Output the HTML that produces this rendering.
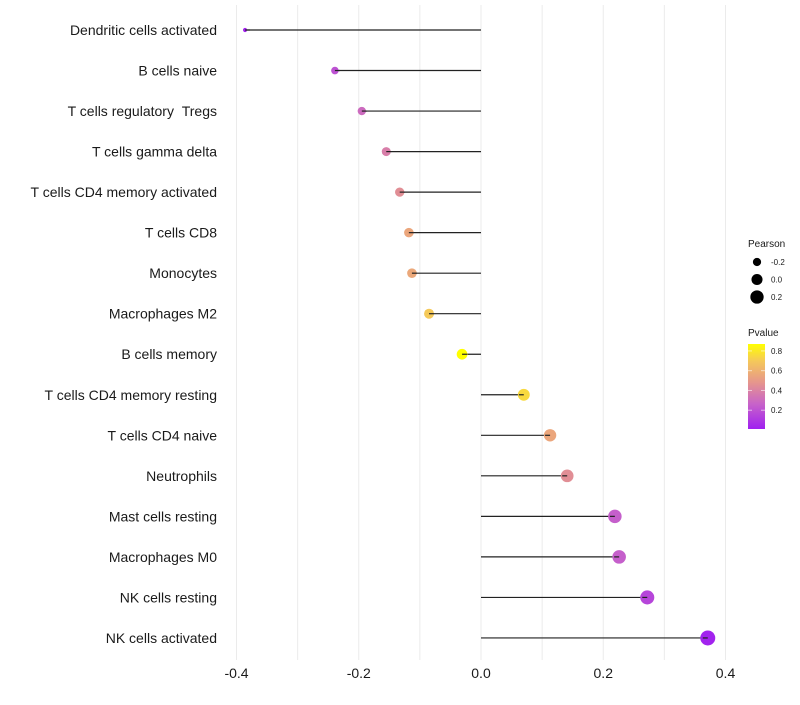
<!DOCTYPE html>
<html><head><meta charset="utf-8"><style>
body{margin:0;background:#fff;font-family:"Liberation Sans",sans-serif}
svg text{font-family:"Liberation Sans",sans-serif}
</style></head><body>
<svg id="c" width="800" height="700"></svg>
<script>
const categories=["Dendritic cells activated","B cells naive","T cells regulatory \u00a0Tregs","T cells gamma delta","T cells CD4 memory activated","T cells CD8","Monocytes","Macrophages M2","B cells memory","T cells CD4 memory resting","T cells CD4 naive","Neutrophils","Mast cells resting","Macrophages M0","NK cells resting","NK cells activated"];
const pearson=[-0.386,-0.239,-0.195,-0.155,-0.133,-0.118,-0.113,-0.085,-0.031,0.070,0.113,0.141,0.219,0.226,0.272,0.371];
const pvalues=[0.02,0.2,0.3,0.38,0.45,0.55,0.56,0.7,0.87,0.75,0.55,0.45,0.25,0.25,0.15,0.02];
const xTicks=[-0.4,-0.2,0,0.2,0.4];
const sizeLegend=[-0.2,0,0.2];
const colorTicks=[0.2,0.4,0.6,0.8];
const NS="http://www.w3.org/2000/svg";
const svg=document.getElementById('c');
function X(v){return 481+v*611.25;}
function Y(i){return 30+i*40.53;}
function R(v){return Math.sqrt(Math.max(1,30.7+68.4*v));}
const pMin=0.01,pMax=0.87;
const stops=[[0,[160,32,240]],[0.3,[200,100,200]],[0.55,[230,150,140]],[0.8,[245,200,90]],[1,[255,255,0]]];
function col(p){let t=(p-pMin)/(pMax-pMin);t=Math.max(0,Math.min(1,t));
 for(let k=1;k<stops.length;k++){if(t<=stops[k][0]){const a=stops[k-1],b=stops[k];const f=(t-a[0])/(b[0]-a[0]);
 const c=a[1].map((x,j)=>Math.round(x+(b[1][j]-x)*f));return `rgb(${c})`;}}return 'rgb(255,255,0)';}
function el(tag,attrs,parent){const e=document.createElementNS(NS,tag);for(const k in attrs)e.setAttribute(k,attrs[k]);(parent||svg).appendChild(e);return e;}
for(let v=-0.4;v<=0.41;v+=0.1){const g=el('line',{x1:X(v),x2:X(v),y1:5,y2:660,stroke:'#ebebeb','stroke-width':1});

}
xTicks.forEach(v=>{const t=el('text',{x:X(v),y:678,'font-size':14,'text-anchor':'middle',fill:'#1a1a1a'});t.textContent=(v===0?'0.0':v.toFixed(1));

});
categories.forEach((c,i)=>{
 const y=Y(i);
 const t=el('text',{x:217,y:y+5,'font-size':14,'text-anchor':'end',fill:'#1a1a1a'});t.textContent=c;
 
 
 const l=el('line',{x1:X(0),x2:X(pearson[i]),y1:y,y2:y,stroke:'#222','stroke-width':1.2});
 
 
 const d=el('circle',{cx:X(pearson[i]),cy:y,r:R(pearson[i]),fill:col(pvalues[i])});
 
 
 const l2=el('line',{x1:X(pearson[i]),x2:X(pearson[i])+(pearson[i]<0?5:-5),y1:y,y2:y,stroke:'#222','stroke-width':1.2});
 
 
});
const lt=el('text',{x:748,y:247,'font-size':10,fill:'#1a1a1a'});lt.textContent='Pearson';


sizeLegend.forEach((v,k)=>{const y=262+k*17.5;
 const c=el('circle',{cx:757,cy:y,r:R(v),fill:'#000'});
 
 
 const t=el('text',{x:771,y:y+3,'font-size':8,fill:'#1a1a1a'});t.textContent=v===0?'0.0':v.toFixed(1);
 
 });
const pt=el('text',{x:748,y:336,'font-size':10,fill:'#1a1a1a'});pt.textContent='Pvalue';


const defs=el('defs',{});const lg=el('linearGradient',{id:'g',x1:0,y1:1,x2:0,y2:0},defs);
stops.forEach(s=>el('stop',{offset:s[0],'stop-color':`rgb(${s[1]})`},lg));
const bar=el('rect',{x:748,y:344,width:17,height:85,fill:'url(#g)'});


function CY(p){return 429-(p-pMin)/(pMax-pMin)*85;}
colorTicks.forEach(p=>{const y=CY(p);
 el('line',{x1:748,x2:752,y1:y,y2:y,stroke:'#fff','stroke-opacity':0.6});
 el('line',{x1:761,x2:765,y1:y,y2:y,stroke:'#fff','stroke-opacity':0.6});
 const t=el('text',{x:771,y:y+3,'font-size':8,fill:'#1a1a1a'});t.textContent=p.toFixed(1);
 
 });
</script>
</body></html>
